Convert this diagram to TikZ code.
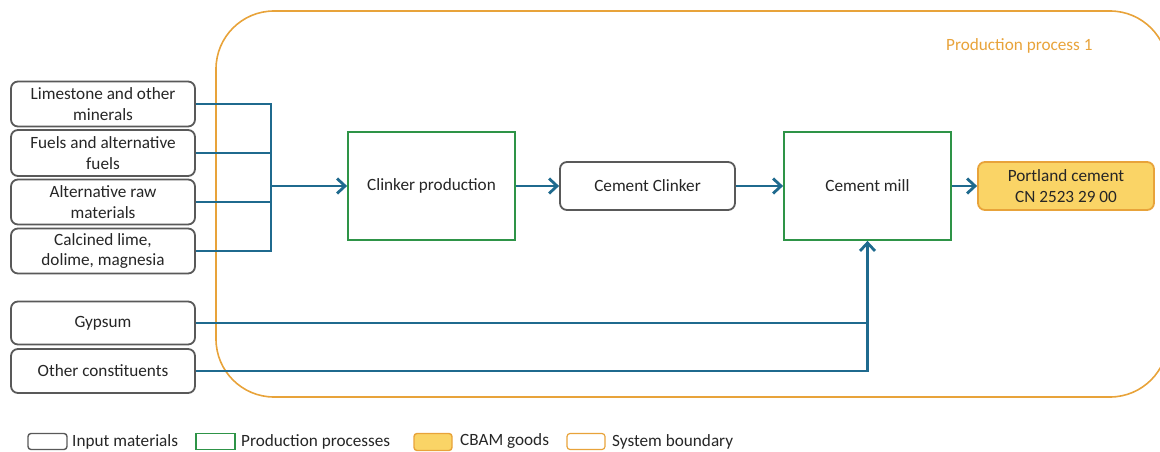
\documentclass[tikz,border=0pt]{standalone}
\usepackage{fontspec}
\setmainfont{Carlito}
\usetikzlibrary{arrows.meta,positioning}
\definecolor{flow}{HTML}{1F6A8E}
\definecolor{proc}{HTML}{2E9447}
\definecolor{inp}{HTML}{595959}
\definecolor{bound}{HTML}{E8A33A}
\definecolor{goods}{HTML}{FAD466}
\definecolor{txt}{HTML}{262626}
\tikzset{
  inbox/.style={draw=inp, line width=1.8pt, rounded corners=7pt, fill=white, text=txt, align=center, font=\fontsize{17.2}{20.5}\selectfont, inner sep=0pt},
  procbox/.style={draw=proc, line width=1.8pt, fill=white, text=txt, align=center, font=\fontsize{17.2}{20.5}\selectfont, inner sep=0pt},
  goodbox/.style={draw=bound, line width=1.8pt, rounded corners=7pt, fill=goods, text=txt, align=center, font=\fontsize{17.2}{20.5}\selectfont, inner sep=0pt},
  flowline/.style={draw=flow, line width=2.8pt},
  flowarrow/.style={flowline, -{Straight Barb[length=8pt,width=15pt,line width=2.8pt]}},
  legtext/.style={text=txt, anchor=west, font=\fontsize{17.2}{20}\selectfont, inner sep=0pt},
}
\begin{document}
\begin{tikzpicture}[x=1pt,y=-1pt]
\useasboundingbox (0,0) rectangle (1160,452);
\begin{scope}
\clip (0,0) rectangle (1160,452);
\draw[bound, line width=1.6pt, rounded corners=58pt] (216,11) rectangle (1168,397);
\end{scope}
\node[text=bound, anchor=west, font=\fontsize{17.2}{20}\selectfont, inner sep=0pt] (pp) at (946,46) {Production process 1};

% input boxes
\node[inbox, minimum width=184pt, minimum height=45pt] (lime) at (103,104) {Limestone and other\\minerals};
\node[inbox, minimum width=184pt, minimum height=46pt] (fuel) at (103,153) {Fuels and alternative\\fuels};
\node[inbox, minimum width=184pt, minimum height=45pt] (raw) at (103,202) {Alternative raw\\materials};
\node[inbox, minimum width=184pt, minimum height=45pt] (calc) at (103,251) {Calcined lime,\\dolime, magnesia};
\node[inbox, minimum width=184pt, minimum height=43pt] (gyp) at (103,323) {Gypsum};
\node[inbox, minimum width=184pt, minimum height=44pt] (oth) at (103,371) {Other constituents};

% process boxes
\node[procbox, minimum width=167pt, minimum height=108pt] (clink) at (431.5,186) {Clinker production};
\node[inbox, minimum width=175pt, minimum height=48pt] (cc) at (647.5,186) {Cement Clinker};
\node[procbox, minimum width=167pt, minimum height=108pt] (mill) at (867.5,186) {Cement mill};
\node[goodbox, minimum width=176pt, minimum height=48pt] (port) at (1066,186) {Portland cement\\CN 2523 29 00};

% junction
\coordinate (j) at (271,186);
\draw[flowline] (lime.east) -- (lime.east -| j) -- (calc.east -| j) -- (calc.east);
\draw[flowline] (fuel.east) -- (fuel.east -| j);
\draw[flowline] (raw.east) -- (raw.east -| j);
\draw[flowarrow] (j) -- (clink.west);
\draw[flowarrow] (clink.east) -- (cc.west);
\draw[flowarrow] (cc.east) -- (mill.west);
\draw[flowarrow] (mill.east) -- (port.west);
\draw[flowline] (gyp.east) -- (gyp.east -| mill.south);
\draw[flowarrow] (oth.east) -- (oth.east -| mill.south) -- (mill.south);

% legend
\node[draw=inp, line width=1.4pt, rounded corners=3pt, minimum width=39pt, minimum height=16pt, inner sep=0pt] (l1) at (47.5,441.5) {};
\node[legtext] (t1) at (72,441.5) {Input materials};
\node[draw=proc, line width=1.4pt, minimum width=39pt, minimum height=16pt, inner sep=0pt] (l2) at (215.5,441.5) {};
\node[legtext] (t2) at (241,441.5) {Production processes};
\node[draw=bound, fill=goods, line width=1.4pt, rounded corners=3pt, minimum width=38pt, minimum height=17pt, inner sep=0pt] (l3) at (433,442) {};
\node[legtext] (t3) at (460,441.5) {CBAM goods};
\node[draw=bound, line width=1.2pt, rounded corners=3pt, minimum width=38pt, minimum height=16pt, inner sep=0pt] (l4) at (586,441.5) {};
\node[legtext] (t4) at (612,441.5) {System boundary};
\end{tikzpicture}
\end{document}
